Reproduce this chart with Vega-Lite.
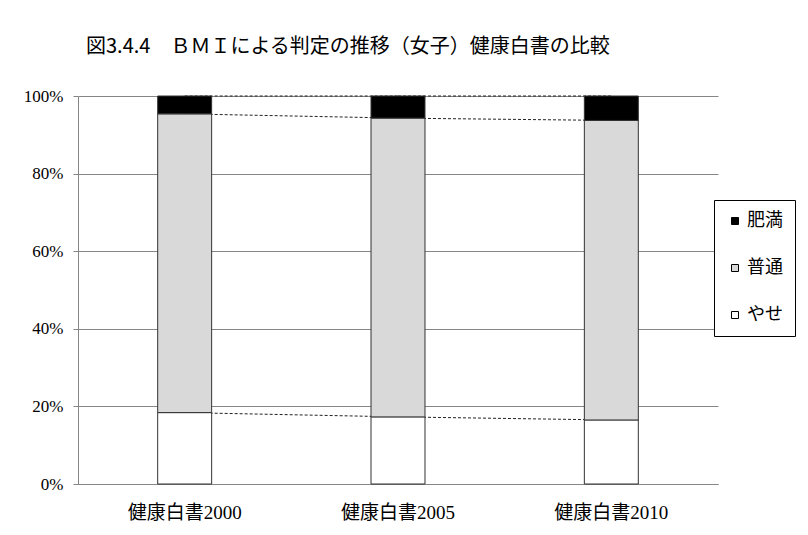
{
  "$schema": "https://vega.github.io/schema/vega-lite/v6.json",
  "autosize": "none",
  "width": 640,
  "height": 388,
  "padding": {"left": 78, "top": 96, "right": 90, "bottom": 51},
  "background": "white",
  "title": {
    "text": "図3.4.4　ＢＭＩによる判定の推移（女子）健康白書の比較",
    "anchor": "start",
    "frame": "group",
    "font": "Noto Sans CJK JP",
    "fontSize": 20,
    "fontWeight": "normal",
    "color": "#000000",
    "dx": 8,
    "offset": 30
  },
  "config": {
    "view": {"stroke": null},
    "legend": {
      "orient": "none",
      "legendX": 636,
      "legendY": 104,
      "strokeColor": "#000000",
      "fillColor": "#ffffff",
      "padding": 12,
      "symbolType": "square",
      "symbolSize": 49,
      "symbolStrokeColor": "#000000",
      "symbolStrokeWidth": 1,
      "labelFont": "Noto Sans CJK JP",
      "labelFontSize": 18,
      "labelColor": "#000000",
      "labelOffset": 3,
      "rowPadding": 29,
      "title": null
    }
  },
  "datasets": {
    "bars": [
      {"book": "健康白書2000", "cat": "やせ", "k": 1, "pct": 18.4},
      {"book": "健康白書2000", "cat": "普通", "k": 2, "pct": 77.0},
      {"book": "健康白書2000", "cat": "肥満", "k": 3, "pct": 4.6},
      {"book": "健康白書2005", "cat": "やせ", "k": 1, "pct": 17.3},
      {"book": "健康白書2005", "cat": "普通", "k": 2, "pct": 77.0},
      {"book": "健康白書2005", "cat": "肥満", "k": 3, "pct": 5.7},
      {"book": "健康白書2010", "cat": "やせ", "k": 1, "pct": 16.5},
      {"book": "健康白書2010", "cat": "普通", "k": 2, "pct": 77.2},
      {"book": "健康白書2010", "cat": "肥満", "k": 3, "pct": 6.3}
    ],
    "links": [
      {"from": "健康白書2000", "to": "健康白書2005", "a": 18.4, "b": 17.3},
      {"from": "健康白書2000", "to": "健康白書2005", "a": 95.4, "b": 94.3},
      {"from": "健康白書2000", "to": "健康白書2005", "a": 100, "b": 100},
      {"from": "健康白書2005", "to": "健康白書2010", "a": 17.3, "b": 16.5},
      {"from": "健康白書2005", "to": "健康白書2010", "a": 94.3, "b": 93.7},
      {"from": "健康白書2005", "to": "健康白書2010", "a": 100, "b": 100}
    ]
  },
  "layer": [
    {
      "data": {"name": "links"},
      "mark": {"type": "rule", "color": "#222222", "strokeWidth": 1, "strokeDash": [3, 2]},
      "encoding": {
        "x": {"field": "from", "type": "nominal", "sort": ["健康白書2000", "健康白書2005", "健康白書2010"]},
        "x2": {"field": "to"},
        "y": {"field": "a", "type": "quantitative"},
        "y2": {"field": "b"}
      }
    },
    {
      "data": {"name": "bars"},
      "mark": {"type": "bar", "stroke": "#333333", "strokeWidth": 1},
      "encoding": {
        "x": {
          "field": "book",
          "type": "nominal",
          "sort": ["健康白書2000", "健康白書2005", "健康白書2010"],
          "scale": {"paddingInner": 0.747, "paddingOuter": 0.3735},
          "axis": {
            "title": null,
            "labelAngle": 0,
            "labelAlign": "center",
            "labelFont": "'Liberation Serif', 'Noto Sans CJK JP'",
            "labelFontSize": 19,
            "labelColor": "#000000",
            "labelPadding": 28,
            "ticks": false,
            "domainColor": "#868686",
            "domainWidth": 1
          }
        },
        "y": {
          "field": "pct",
          "type": "quantitative",
          "stack": "zero",
          "scale": {"domain": [0, 100], "nice": false},
          "axis": {
            "title": null,
            "values": [0, 20, 40, 60, 80, 100],
            "labelExpr": "datum.value + '%'",
            "labelFont": "'Liberation Serif'",
            "labelFontSize": 17,
            "labelColor": "#000000",
            "labelPadding": 10,
            "tickSize": 5,
            "tickColor": "#868686",
            "domainColor": "#868686",
            "gridColor": "#868686",
            "grid": true
          }
        },
        "color": {
          "field": "cat",
          "type": "nominal",
          "scale": {"domain": ["肥満", "普通", "やせ"], "range": ["#000000", "#d9d9d9", "#ffffff"]}
        },
        "order": {"field": "k", "type": "quantitative"}
      }
    }
  ]
}
